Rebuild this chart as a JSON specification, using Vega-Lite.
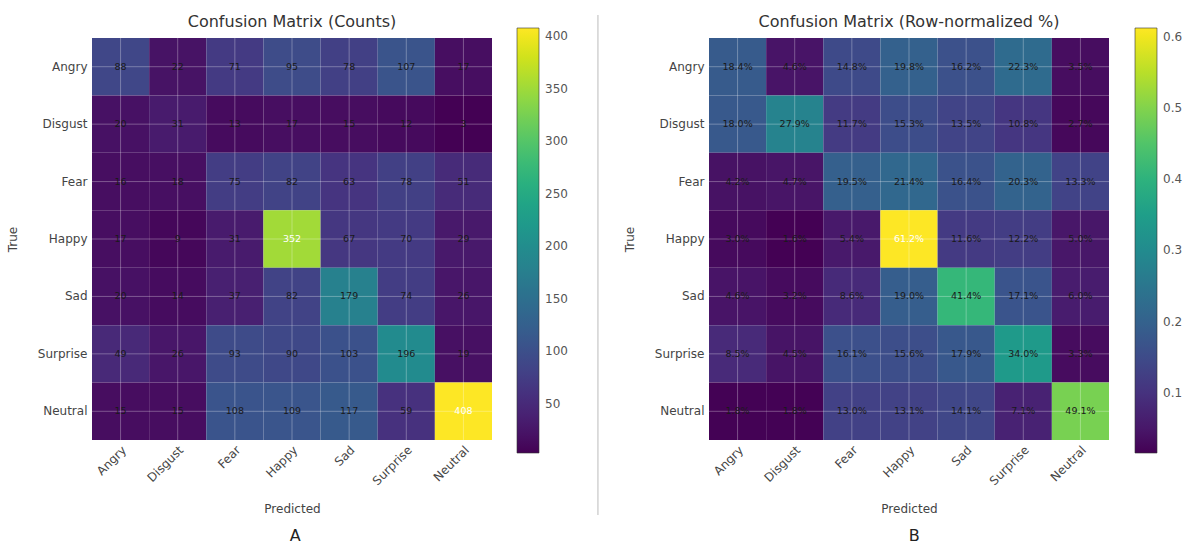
{
  "$schema": "https://vega.github.io/schema/vega-lite/v6.json",
  "background": "white",
  "padding": {"left": 6, "top": 13, "right": 5, "bottom": 5},
  "config": {
    "font": "DejaVu Sans",
    "view": {"stroke": null},
    "concat": {"spacing": 10},
    "axis": {
      "labelFontSize": 12, "labelColor": "#444", "titleFontSize": 12, "titleColor": "#444",
      "titleFontWeight": "normal", "grid": false, "domain": false, "ticks": false
    }
  },
  "datasets": {
    "cm": [
      {"t": "Angry", "p": "Angry", "n": 88, "r": 0.184},
      {"t": "Angry", "p": "Disgust", "n": 22, "r": 0.046},
      {"t": "Angry", "p": "Fear", "n": 71, "r": 0.148},
      {"t": "Angry", "p": "Happy", "n": 95, "r": 0.198},
      {"t": "Angry", "p": "Sad", "n": 78, "r": 0.162},
      {"t": "Angry", "p": "Surprise", "n": 107, "r": 0.223},
      {"t": "Angry", "p": "Neutral", "n": 17, "r": 0.035},
      {"t": "Disgust", "p": "Angry", "n": 20, "r": 0.180},
      {"t": "Disgust", "p": "Disgust", "n": 31, "r": 0.279},
      {"t": "Disgust", "p": "Fear", "n": 13, "r": 0.117},
      {"t": "Disgust", "p": "Happy", "n": 17, "r": 0.153},
      {"t": "Disgust", "p": "Sad", "n": 15, "r": 0.135},
      {"t": "Disgust", "p": "Surprise", "n": 12, "r": 0.108},
      {"t": "Disgust", "p": "Neutral", "n": 3, "r": 0.027},
      {"t": "Fear", "p": "Angry", "n": 16, "r": 0.042},
      {"t": "Fear", "p": "Disgust", "n": 18, "r": 0.047},
      {"t": "Fear", "p": "Fear", "n": 75, "r": 0.195},
      {"t": "Fear", "p": "Happy", "n": 82, "r": 0.214},
      {"t": "Fear", "p": "Sad", "n": 63, "r": 0.164},
      {"t": "Fear", "p": "Surprise", "n": 78, "r": 0.203},
      {"t": "Fear", "p": "Neutral", "n": 51, "r": 0.133},
      {"t": "Happy", "p": "Angry", "n": 17, "r": 0.030},
      {"t": "Happy", "p": "Disgust", "n": 9, "r": 0.016},
      {"t": "Happy", "p": "Fear", "n": 31, "r": 0.054},
      {"t": "Happy", "p": "Happy", "n": 352, "r": 0.612},
      {"t": "Happy", "p": "Sad", "n": 67, "r": 0.116},
      {"t": "Happy", "p": "Surprise", "n": 70, "r": 0.122},
      {"t": "Happy", "p": "Neutral", "n": 29, "r": 0.050},
      {"t": "Sad", "p": "Angry", "n": 20, "r": 0.046},
      {"t": "Sad", "p": "Disgust", "n": 14, "r": 0.032},
      {"t": "Sad", "p": "Fear", "n": 37, "r": 0.086},
      {"t": "Sad", "p": "Happy", "n": 82, "r": 0.190},
      {"t": "Sad", "p": "Sad", "n": 179, "r": 0.414},
      {"t": "Sad", "p": "Surprise", "n": 74, "r": 0.171},
      {"t": "Sad", "p": "Neutral", "n": 26, "r": 0.060},
      {"t": "Surprise", "p": "Angry", "n": 49, "r": 0.085},
      {"t": "Surprise", "p": "Disgust", "n": 26, "r": 0.045},
      {"t": "Surprise", "p": "Fear", "n": 93, "r": 0.161},
      {"t": "Surprise", "p": "Happy", "n": 90, "r": 0.156},
      {"t": "Surprise", "p": "Sad", "n": 103, "r": 0.179},
      {"t": "Surprise", "p": "Surprise", "n": 196, "r": 0.340},
      {"t": "Surprise", "p": "Neutral", "n": 19, "r": 0.033},
      {"t": "Neutral", "p": "Angry", "n": 15, "r": 0.018},
      {"t": "Neutral", "p": "Disgust", "n": 15, "r": 0.018},
      {"t": "Neutral", "p": "Fear", "n": 108, "r": 0.130},
      {"t": "Neutral", "p": "Happy", "n": 109, "r": 0.131},
      {"t": "Neutral", "p": "Sad", "n": 117, "r": 0.141},
      {"t": "Neutral", "p": "Surprise", "n": 59, "r": 0.071},
      {"t": "Neutral", "p": "Neutral", "n": 408, "r": 0.491}
    ]
  },
  "hconcat": [
    {
      "title": {"text": "A", "orient": "bottom", "anchor": "middle", "fontSize": 16, "fontWeight": "normal", "color": "#222", "offset": 13, "dx": 8},
      "hconcat": [
        {
          "title": {"text": "Confusion Matrix (Counts)", "fontSize": 16, "fontWeight": "normal", "color": "#333", "offset": 8},
          "width": 400,
          "height": 402,
          "data": {"name": "cm"},
          "layer": [
            {
              "mark": {"type": "rect"},
              "encoding": {
                "x": {"field": "p", "type": "nominal", "sort": ["Angry", "Disgust", "Fear", "Happy", "Sad", "Surprise", "Neutral"], "title": "Predicted",
                      "axis": {"labelAngle": -45, "labelAlign": "right", "labelBaseline": "top", "labelPadding": 4, "titlePadding": 17}},
                "y": {"field": "t", "type": "nominal", "sort": ["Angry", "Disgust", "Fear", "Happy", "Sad", "Surprise", "Neutral"], "title": "True",
                      "axis": {"labelPadding": 5, "titlePadding": 18}},
                "color": {"field": "n", "type": "quantitative", "scale": {"scheme": "viridis", "domain": [3, 408]},
                          "legend": {"orient": "none", "legendX": 425, "legendY": -10, "direction": "vertical", "title": null,
                                     "gradientLength": 425, "gradientThickness": 22, "values": [50, 100, 150, 200, 250, 300, 350, 400],
                                     "labelFontSize": 12, "labelColor": "#555", "gradientStrokeColor": "#333", "gradientStrokeWidth": 0.6, "labelOffset": 6}}
              }
            },
            {
              "transform": [{"aggregate": [], "groupby": ["p"]}],
              "mark": {"type": "rule", "color": "white", "opacity": 0.3, "strokeWidth": 1},
              "encoding": {
                "x": {"field": "p", "type": "nominal", "sort": ["Angry", "Disgust", "Fear", "Happy", "Sad", "Surprise", "Neutral"], "title": "Predicted"}
              }
            },
            {
              "transform": [{"aggregate": [], "groupby": ["t"]}],
              "mark": {"type": "rule", "color": "white", "opacity": 0.3, "strokeWidth": 1},
              "encoding": {
                "y": {"field": "t", "type": "nominal", "sort": ["Angry", "Disgust", "Fear", "Happy", "Sad", "Surprise", "Neutral"], "title": "True"}
              }
            },
            {
              "mark": {"type": "text", "fontSize": 9.5},
              "encoding": {
                "x": {"field": "p", "type": "nominal", "sort": ["Angry", "Disgust", "Fear", "Happy", "Sad", "Surprise", "Neutral"], "title": "Predicted"},
                "y": {"field": "t", "type": "nominal", "sort": ["Angry", "Disgust", "Fear", "Happy", "Sad", "Surprise", "Neutral"], "title": "True"},
                "text": {"field": "n", "type": "quantitative"},
                "color": {"condition": {"test": "datum.n > 300", "value": "white"}, "value": "#1a1a1a"}
              }
            }
          ]
        }
      ]
    },
    {
      "width": 35,
      "height": 500,
      "data": {"values": [{}]},
      "mark": {"type": "rule", "color": "#bbbbbb", "strokeWidth": 1},
      "encoding": {
        "x": {"datum": 0.57, "type": "quantitative", "scale": {"domain": [0, 1]}, "axis": null},
        "y": {"datum": 1.046, "type": "quantitative", "scale": {"domain": [0, 1]}, "axis": null},
        "y2": {"datum": 0.046}
      }
    },
    {
      "title": {"text": "B", "orient": "bottom", "anchor": "middle", "fontSize": 16, "fontWeight": "normal", "color": "#222", "offset": 13, "dx": 11},
      "hconcat": [
        {
          "title": {"text": "Confusion Matrix (Row-normalized %)", "fontSize": 16, "fontWeight": "normal", "color": "#333", "offset": 8},
          "width": 400,
          "height": 402,
          "data": {"name": "cm"},
          "layer": [
            {
              "mark": {"type": "rect"},
              "encoding": {
                "x": {"field": "p", "type": "nominal", "sort": ["Angry", "Disgust", "Fear", "Happy", "Sad", "Surprise", "Neutral"], "title": "Predicted",
                      "axis": {"labelAngle": -45, "labelAlign": "right", "labelBaseline": "top", "labelPadding": 4, "titlePadding": 17}},
                "y": {"field": "t", "type": "nominal", "sort": ["Angry", "Disgust", "Fear", "Happy", "Sad", "Surprise", "Neutral"], "title": "True",
                      "axis": {"labelPadding": 5, "titlePadding": 18}},
                "color": {"field": "r", "type": "quantitative", "scale": {"scheme": "viridis", "domain": [0.016, 0.612]},
                          "legend": {"orient": "none", "legendX": 426, "legendY": -10, "direction": "vertical", "title": null,
                                     "gradientLength": 425, "gradientThickness": 22, "values": [0.1, 0.2, 0.3, 0.4, 0.5, 0.6], "format": ".1f",
                                     "labelFontSize": 12, "labelColor": "#555", "gradientStrokeColor": "#333", "gradientStrokeWidth": 0.6, "labelOffset": 6}}
              }
            },
            {
              "transform": [{"aggregate": [], "groupby": ["p"]}],
              "mark": {"type": "rule", "color": "white", "opacity": 0.3, "strokeWidth": 1},
              "encoding": {
                "x": {"field": "p", "type": "nominal", "sort": ["Angry", "Disgust", "Fear", "Happy", "Sad", "Surprise", "Neutral"], "title": "Predicted"}
              }
            },
            {
              "transform": [{"aggregate": [], "groupby": ["t"]}],
              "mark": {"type": "rule", "color": "white", "opacity": 0.3, "strokeWidth": 1},
              "encoding": {
                "y": {"field": "t", "type": "nominal", "sort": ["Angry", "Disgust", "Fear", "Happy", "Sad", "Surprise", "Neutral"], "title": "True"}
              }
            },
            {
              "mark": {"type": "text", "fontSize": 9.5},
              "encoding": {
                "x": {"field": "p", "type": "nominal", "sort": ["Angry", "Disgust", "Fear", "Happy", "Sad", "Surprise", "Neutral"], "title": "Predicted"},
                "y": {"field": "t", "type": "nominal", "sort": ["Angry", "Disgust", "Fear", "Happy", "Sad", "Surprise", "Neutral"], "title": "True"},
                "text": {"field": "r", "type": "quantitative", "format": ".1%"},
                "color": {"condition": {"test": "datum.r > 0.5", "value": "white"}, "value": "#1a1a1a"}
              }
            }
          ]
        }
      ]
    }
  ],
  "resolve": {"scale": {"color": "independent"}, "legend": {"color": "independent"}}
}
